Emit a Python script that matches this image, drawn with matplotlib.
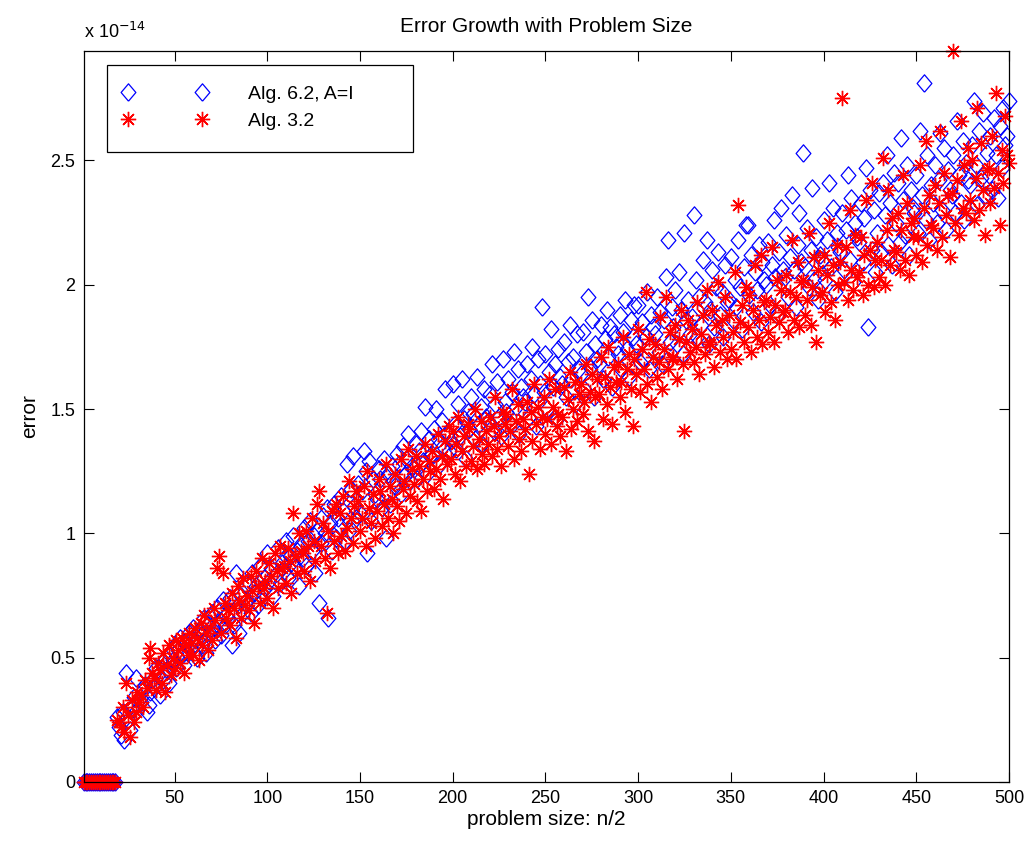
import numpy as np
import matplotlib
matplotlib.use("Agg")
import matplotlib.pyplot as plt
from matplotlib.patches import Rectangle
from matplotlib.ticker import FuncFormatter

plt.rcParams['font.family'] = ['Liberation Sans', 'DejaVu Sans']

# ---------------- data (error values in units of 1e-14) ----------------
n_zero_last = 18          # problem sizes 1..18 give zero error
n_first = 19              # nonzero errors start here

blue_alg62 = [
    0.26, 0.22, 0.19, 0.28, 0.17, 0.44, 0.25, 0.21, 0.30, 0.34,
    0.42, 0.29, 0.33, 0.32, 0.37, 0.39, 0.28, 0.31, 0.36, 0.41,
    0.38, 0.46, 0.43, 0.35, 0.48, 0.41, 0.50, 0.45, 0.40, 0.47,
    0.49, 0.55, 0.46, 0.53, 0.58, 0.51, 0.47, 0.56, 0.52, 0.60,
    0.54, 0.62, 0.57, 0.50, 0.61, 0.59, 0.55, 0.66, 0.52, 0.63,
    0.60, 0.68, 0.62, 0.57, 0.70, 0.65, 0.59, 0.73, 0.63, 0.67,
    0.66, 0.74, 0.55, 0.63, 0.84, 0.71, 0.60, 0.75, 0.68, 0.72,
    0.73, 0.80, 0.68, 0.84, 0.76, 0.79, 0.71, 0.87, 0.74, 0.82,
    0.78, 0.92, 0.81, 0.86, 0.75, 0.89, 0.84, 0.94, 0.80, 0.88,
    0.85, 0.97, 0.82, 0.91, 0.88, 0.99, 0.86, 0.93, 0.79, 0.95,
    0.90, 1.02, 0.87, 0.97, 1.05, 0.93, 0.99, 0.84, 1.01, 0.72,
    0.96, 1.07, 1.00, 1.10, 0.66, 1.04, 0.93, 1.12, 0.98, 1.06,
    1.03, 1.15, 1.09, 0.97, 1.28, 1.01, 1.18, 1.31, 1.11, 1.06,
    1.20, 1.08, 1.17, 1.33, 1.25, 0.92, 1.29, 1.05, 1.22, 1.16,
    1.14, 1.26, 1.22, 1.10, 1.30, 0.98, 1.24, 1.12, 1.27, 1.21,
    1.19, 1.32, 1.28, 1.16, 1.35, 1.23, 1.30, 1.40, 1.21, 1.27,
    1.26, 1.36, 1.22, 1.33, 1.41, 1.29, 1.51, 1.24, 1.38, 1.31,
    1.32, 1.42, 1.50, 1.38, 1.28, 1.45, 1.35, 1.58, 1.40, 1.33,
    1.37, 1.60, 1.44, 1.34, 1.52, 1.39, 1.62, 1.46, 1.30, 1.49,
    1.42, 1.55, 1.48, 1.38, 1.63, 1.44, 1.51, 1.36, 1.58, 1.47,
    1.45, 1.56, 1.68, 1.41, 1.52, 1.61, 1.47, 1.39, 1.70, 1.53,
    1.49, 1.62, 1.44, 1.57, 1.73, 1.51, 1.66, 1.40, 1.59, 1.55,
    1.53, 1.68, 1.47, 1.62, 1.75, 1.56, 1.43, 1.70, 1.60, 1.91,
    1.57, 1.72, 1.50, 1.65, 1.82, 1.59, 1.68, 1.46, 1.74, 1.63,
    1.60, 1.77, 1.55, 1.69, 1.84, 1.62, 1.71, 1.52, 1.80, 1.66,
    1.64, 1.81, 1.58, 1.73, 1.95, 1.67, 1.86, 1.55, 1.76, 1.70,
    1.68, 1.84, 1.62, 1.78, 1.90, 1.71, 1.83, 1.59, 1.80, 1.75,
    1.72, 1.88, 1.66, 1.81, 1.94, 1.74, 1.63, 1.86, 1.79, 1.92,
    1.76, 1.92, 1.69, 1.85, 1.70, 1.79, 1.97, 1.66, 1.88, 1.83,
    1.80, 1.95, 1.73, 1.89, 1.68, 1.86, 2.03, 2.18, 1.77, 1.91,
    1.83, 1.98, 1.76, 2.05, 1.90, 1.72, 2.21, 1.86, 1.94, 1.80,
    1.87, 2.28, 2.02, 1.79, 1.95, 1.84, 2.10, 1.93, 2.18, 1.76,
    1.90, 2.06, 1.83, 1.99, 2.13, 1.88, 1.97, 1.79, 2.08, 1.93,
    1.94, 2.11, 1.86, 2.02, 1.91, 2.18, 1.99, 1.82, 2.07, 2.24,
    2.24, 1.96, 2.12, 1.89, 2.05, 1.98, 2.16, 1.85, 2.09, 2.02,
    2.00, 2.17, 1.92, 2.08, 2.26, 2.03, 1.88, 2.13, 2.31, 2.06,
    2.03, 2.20, 1.95, 2.11, 2.36, 2.06, 1.91, 2.16, 2.29, 2.09,
    2.53, 2.07, 2.23, 1.99, 2.14, 2.39, 2.02, 2.19, 1.94, 2.12,
    2.10, 2.26, 2.02, 2.18, 2.41, 2.07, 2.31, 1.97, 2.21, 2.15,
    2.13, 2.29, 2.06, 2.22, 2.44, 2.10, 2.35, 2.01, 2.25, 2.19,
    2.17, 2.33, 2.09, 2.27, 2.47, 1.83, 2.38, 2.14, 2.30, 2.05,
    2.21, 2.37, 2.13, 2.41, 2.28, 2.52, 2.16, 2.33, 2.08, 2.45,
    2.25, 2.41, 2.17, 2.59, 2.34, 2.20, 2.48, 2.12, 2.38, 2.31,
    2.29, 2.44, 2.21, 2.62, 2.36, 2.81, 2.26, 2.52, 2.18, 2.40,
    2.33, 2.48, 2.25, 2.42, 2.61, 2.30, 2.55, 2.22, 2.46, 2.38,
    2.36, 2.52, 2.29, 2.66, 2.44, 2.33, 2.58, 2.26, 2.49, 2.42,
    2.40, 2.56, 2.74, 2.48, 2.32, 2.62, 2.43, 2.69, 2.36, 2.53,
    2.44, 2.60, 2.38, 2.67, 2.52, 2.35, 2.64, 2.47, 2.71, 2.56,
    2.60, 2.74,
]

red_alg32 = [
    0.25, 0.24, 0.22, 0.30, 0.20, 0.40, 0.27, 0.18, 0.33, 0.24,
    0.28, 0.36, 0.32, 0.35, 0.30, 0.41, 0.38, 0.50, 0.54, 0.44,
    0.42, 0.37, 0.48, 0.45, 0.40, 0.52, 0.36, 0.47, 0.55, 0.43,
    0.50, 0.46, 0.57, 0.53, 0.48, 0.58, 0.44, 0.55, 0.51, 0.60,
    0.56, 0.51, 0.62, 0.58, 0.49, 0.64, 0.55, 0.67, 0.60, 0.53,
    0.62, 0.57, 0.70, 0.65, 0.86, 0.91, 0.60, 0.84, 0.72, 0.66,
    0.69, 0.63, 0.76, 0.70, 0.58, 0.79, 0.73, 0.66, 0.82, 0.71,
    0.75, 0.69, 0.83, 0.77, 0.64, 0.85, 0.79, 0.72, 0.90, 0.78,
    0.81, 0.74, 0.88, 0.83, 0.70, 0.92, 0.85, 0.78, 0.95, 0.86,
    0.87, 0.80, 0.94, 0.89, 0.76, 1.08, 0.91, 0.84, 1.00, 0.93,
    0.92, 0.85, 1.01, 0.95, 0.81, 1.06, 0.97, 0.89, 1.12, 1.17,
    0.95, 1.04, 0.90, 0.68, 1.01, 0.86, 1.09, 0.97, 1.12, 0.92,
    1.08, 0.99, 1.15, 0.93, 1.02, 1.21, 1.06, 0.96, 1.11, 1.17,
    1.13, 1.01, 1.06, 1.19, 0.95, 1.25, 1.10, 1.04, 1.16, 0.98,
    1.09, 1.22, 1.17, 1.03, 1.12, 1.28, 1.06, 1.19, 1.14, 1.00,
    1.24, 1.11, 1.05, 1.30, 1.18, 1.21, 1.08, 1.34, 1.15, 1.26,
    1.20, 1.31, 1.13, 1.27, 1.09, 1.22, 1.36, 1.17, 1.29, 1.25,
    1.33, 1.18, 1.26, 1.40, 1.22, 1.31, 1.14, 1.37, 1.28, 1.43,
    1.30, 1.41, 1.24, 1.36, 1.47, 1.21, 1.33, 1.39, 1.27, 1.44,
    1.42, 1.29, 1.35, 1.50, 1.26, 1.38, 1.45, 1.32, 1.28, 1.41,
    1.36, 1.47, 1.31, 1.43, 1.55, 1.34, 1.39, 1.27, 1.49, 1.44,
    1.48, 1.35, 1.41, 1.58, 1.30, 1.45, 1.52, 1.38, 1.33, 1.46,
    1.42, 1.53, 1.24, 1.49, 1.37, 1.60, 1.44, 1.51, 1.34, 1.47,
    1.55, 1.40, 1.46, 1.62, 1.36, 1.51, 1.58, 1.43, 1.48, 1.39,
    1.47, 1.59, 1.33, 1.54, 1.65, 1.42, 1.50, 1.61, 1.45, 1.56,
    1.60, 1.48, 1.53, 1.68, 1.41, 1.57, 1.64, 1.37, 1.55, 1.62,
    1.56, 1.71, 1.46, 1.63, 1.52, 1.75, 1.59, 1.44, 1.67, 1.61,
    1.68, 1.55, 1.61, 1.79, 1.49, 1.66, 1.72, 1.58, 1.43, 1.70,
    1.64, 1.82, 1.57, 1.74, 1.66, 1.97, 1.60, 1.78, 1.53, 1.71,
    1.76, 1.63, 1.69, 1.87, 1.58, 1.74, 1.95, 1.66, 1.81, 1.70,
    1.71, 1.84, 1.62, 1.78, 1.90, 1.68, 1.41, 1.77, 1.86, 1.73,
    1.82, 1.69, 1.75, 1.93, 1.64, 1.80, 1.88, 1.72, 1.98, 1.77,
    1.76, 1.90, 1.67, 1.84, 2.01, 1.73, 1.86, 1.79, 1.95, 1.70,
    1.88, 1.74, 1.81, 2.05, 1.70, 2.32, 1.85, 1.92, 1.77, 1.99,
    1.83, 1.96, 1.73, 1.90, 2.08, 1.79, 1.86, 2.12, 1.76, 1.93,
    1.94, 1.81, 1.87, 2.15, 1.77, 1.92, 2.02, 1.85, 1.98, 1.89,
    1.90, 2.04, 1.81, 1.97, 2.18, 1.86, 1.95, 2.09, 1.83, 2.01,
    2.02, 1.88, 1.94, 2.21, 1.84, 1.99, 2.11, 1.77, 2.06, 1.96,
    1.97, 2.12, 1.89, 2.04, 2.25, 1.93, 2.08, 1.86, 2.16, 2.00,
    2.09, 2.75, 2.01, 2.15, 1.94, 2.30, 2.06, 1.98, 2.20, 2.03,
    2.05, 2.19, 1.96, 2.12, 2.34, 2.00, 2.14, 2.41, 1.99, 2.10,
    2.17, 2.03, 2.10, 2.51, 2.00, 2.22, 2.38, 2.08, 2.27, 2.14,
    2.13, 2.29, 2.06, 2.22, 2.44, 2.10, 2.33, 2.04, 2.25, 2.19,
    2.27, 2.12, 2.19, 2.48, 2.09, 2.31, 2.58, 2.16, 2.36, 2.24,
    2.23, 2.40, 2.14, 2.33, 2.62, 2.19, 2.45, 2.28, 2.36, 2.11,
    2.37, 2.94, 2.25, 2.42, 2.20, 2.66, 2.31, 2.48, 2.29, 2.55,
    2.34, 2.50, 2.26, 2.43, 2.71, 2.30, 2.57, 2.38, 2.20, 2.46,
    2.47, 2.33, 2.60, 2.39, 2.77, 2.45, 2.24, 2.54, 2.41, 2.68,
    2.52, 2.49,
]

x_ticks = [50, 100, 150, 200, 250, 300, 350, 400, 450, 500]
y_ticks = [0, 0.5, 1, 1.5, 2, 2.5]
labels = ["Alg. 6.2, A=I", "Alg. 3.2"]

# ---------------- build series ----------------
def series(vals):
    x = np.concatenate([np.arange(1, n_zero_last + 1),
                        np.arange(n_first, n_first + len(vals))])
    y = np.concatenate([np.zeros(n_zero_last), np.asarray(vals, float)])
    return x, y

xb, yb = series(blue_alg62)
xr, yr = series(red_alg32)

# ---------------- figure ----------------
W, H = 1035, 850
fig = plt.figure(figsize=(W / 100, H / 100), dpi=100)
ax = fig.add_axes([83.7 / W, 1 - 782 / H, (1009 - 83.7) / W, (782 - 51) / H])

diamond = [(0, -1), (0.85, 0), (0, 1), (-0.85, 0), (0, -1)]
ax.plot(xb, yb, linestyle='none', marker=diamond, markersize=12.5,
        markerfacecolor='none', markeredgecolor='#0000ff',
        markeredgewidth=0.9, label=labels[0], clip_on=False)
ax.plot(xr, yr, linestyle='none', marker=(8, 2, 0), markersize=11,
        color='#ff0000', markeredgewidth=1.0, label=labels[1], clip_on=False)

ax.set_xlim(1, 500)
ax.set_ylim(0, max(max(blue_alg62), max(red_alg32)))
ax.set_xticks(x_ticks)
ax.set_yticks(y_ticks)
ax.yaxis.set_major_formatter(FuncFormatter(lambda v, p: f"{v:g}"))
ax.tick_params(direction='in', length=7, width=0.8, top=True, right=True,
               labelsize=13, pad=6)
for s in ax.spines.values():
    s.set_linewidth(0.9)

ax.set_title("Error Growth with Problem Size", fontsize=15, pad=14)
ax.set_xlabel("problem size: n/2", fontsize=15, labelpad=2)
ax.set_ylabel("error", fontsize=15, labelpad=8)
ax.text(0.0, 1.012, r"x 10$^{-14}$", transform=ax.transAxes,
        fontsize=13, ha='left', va='bottom')

# legend box (white, black border) drawn above the data, below the legend
box = Rectangle((107 / W, 1 - 152 / H), (413 - 107) / W, (152 - 65) / H,
                transform=fig.transFigure, facecolor='white',
                edgecolor='black', linewidth=0.9, zorder=5, clip_on=False)
ax.add_patch(box)

leg = fig.legend(loc='upper left', bbox_to_anchor=(107 / W, 1 - 70 / H),
                 frameon=False, numpoints=2, handlelength=4.36,
                 handletextpad=2.1, labelspacing=0.45, borderpad=0.3,
                 fontsize=14)
leg.set_zorder(10)

fig.savefig("out.png", dpi=100)
